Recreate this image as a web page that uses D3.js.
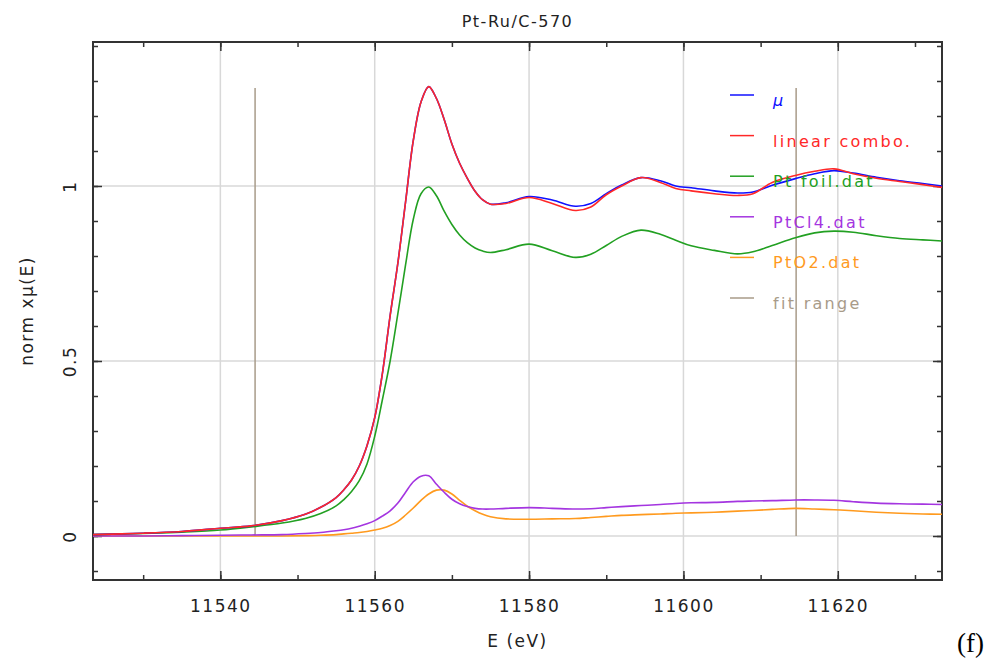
<!DOCTYPE html>
<html>
	<head>
		<meta http-equiv='Content-Type' content='text/html;charset=utf-8'/>
		<title>Pt-Ru/C-570</title>
		<script src='https://d3js.org/d3.v7.min.js'></script>
		<style>
			body { margin: 0; background: #ffffff; }
			text { font-family: 'DejaVu Sans', sans-serif; }
		</style>
	</head>

	<body>
		<script>
		'use strict'
		// energy grid (eV), shared by all spectra
		const energy = [11523.5, 11530, 11535, 11540, 11544, 11548, 11551, 11553, 11555, 11556, 11557, 11558, 11559, 11560,
			11561, 11562, 11563, 11564, 11565, 11566, 11567, 11568, 11569, 11570, 11571, 11572, 11573, 11574, 11575,
			11577, 11580, 11583, 11586, 11588, 11590, 11592, 11594.5, 11597, 11599, 11601, 11604, 11607, 11609,
			11611.5, 11614.5, 11617, 11619.5, 11622, 11625, 11628, 11631, 11633.5]

		const mu = [0.004, 0.008, 0.013, 0.022, 0.029, 0.044, 0.062, 0.082, 0.110, 0.132, 0.160, 0.200, 0.258, 0.338,
			0.465, 0.630, 0.780, 0.955, 1.130, 1.240, 1.284, 1.250, 1.190, 1.120, 1.065, 1.022, 0.985, 0.960, 0.948,
			0.952, 0.970, 0.960, 0.942, 0.950, 0.978, 1.003, 1.024, 1.015, 1.000, 0.995, 0.986, 0.980, 0.983,
			1.002, 1.021, 1.035, 1.044, 1.037, 1.025, 1.015, 1.007, 1.000]

		const combo = [0.004, 0.008, 0.013, 0.022, 0.029, 0.044, 0.062, 0.082, 0.110, 0.132, 0.160, 0.200, 0.258, 0.338,
			0.465, 0.630, 0.780, 0.955, 1.130, 1.240, 1.284, 1.250, 1.190, 1.120, 1.065, 1.022, 0.985, 0.960, 0.948,
			0.950, 0.967, 0.950, 0.930, 0.940, 0.975, 1.000, 1.024, 1.010, 0.993, 0.986, 0.978, 0.973, 0.978,
			1.010, 1.030, 1.042, 1.049, 1.035, 1.022, 1.013, 1.004, 0.996]

		const ptFoil = [0.004, 0.007, 0.011, 0.017, 0.026, 0.037, 0.050, 0.064, 0.086, 0.104, 0.127, 0.158, 0.206, 0.285,
			0.390, 0.500, 0.635, 0.775, 0.905, 0.978, 0.997, 0.972, 0.928, 0.890, 0.860, 0.838, 0.823, 0.814, 0.810,
			0.818, 0.834, 0.815, 0.796, 0.805, 0.830, 0.856, 0.874, 0.862, 0.845, 0.829, 0.816, 0.806, 0.812,
			0.830, 0.852, 0.866, 0.871, 0.868, 0.858, 0.850, 0.846, 0.843]

		const ptCl4 = [0.000, 0.000, 0.001, 0.002, 0.003, 0.004, 0.007, 0.010, 0.015, 0.018, 0.022, 0.028, 0.035, 0.044,
			0.057, 0.072, 0.094, 0.125, 0.155, 0.171, 0.172, 0.148, 0.125, 0.105, 0.092, 0.084, 0.079, 0.077, 0.077,
			0.079, 0.081, 0.079, 0.077, 0.078, 0.081, 0.084, 0.087, 0.090, 0.093, 0.095, 0.096, 0.099, 0.100,
			0.101, 0.103, 0.103, 0.102, 0.098, 0.094, 0.092, 0.091, 0.090]

		const ptO2 = [0.000, 0.000, 0.000, 0.000, 0.000, 0.000, 0.001, 0.002, 0.004, 0.006, 0.008, 0.010, 0.013, 0.017,
			0.022, 0.030, 0.042, 0.060, 0.080, 0.102, 0.120, 0.131, 0.131, 0.120, 0.102, 0.085, 0.072, 0.062, 0.055,
			0.049, 0.048, 0.049, 0.050, 0.053, 0.056, 0.059, 0.061, 0.063, 0.065, 0.066, 0.068, 0.071, 0.073,
			0.076, 0.079, 0.077, 0.075, 0.072, 0.068, 0.065, 0.063, 0.062]

		const fitRange = [11544.5, 11614.6]
		const fitTop = 1.28

		const seriesNames = ['\u03bc', 'linear combo.', 'Pt foil.dat', 'PtCl4.dat', 'PtO2.dat', 'fit range']
		const seriesColors = ['#1010ff', '#ff2828', '#22a022', '#a435e0', '#ff9a1e', '#a89b89']
		const seriesValues = [mu, combo, ptFoil, ptCl4, ptO2]

		const xMajor = [11540, 11560, 11580, 11600, 11620]
		const yMajor = [0, 0.5, 1]
		const yLabels = ['0', '0.5', '1']

		const width = 991
		const height = 670
		const margin = {top: 42, right: 49, bottom: 90, left: 93}

		const svg = d3.select('body').append('svg')
			.attr('width', width)
			.attr('height', height)

		svg.append('rect')
			.attr('width', '100%')
			.attr('height', '100%')
			.attr('fill', '#ffffff')

		const x = d3.scaleLinear()
			.domain([11523.5, 11633.5])
			.range([margin.left, width - margin.right])

		const y = d3.scaleLinear()
			.domain([-0.1257, 1.4114])
			.range([height - margin.bottom, margin.top])

		const x0 = margin.left
		const x1 = width - margin.right
		const y0 = height - margin.bottom
		const y1 = margin.top

		// grid
		const grid = svg.append('g')
			.attr('stroke', '#d8d8d8')
			.attr('stroke-width', 1.5)
		xMajor.forEach(function(v) {
			grid.append('line')
				.attr('x1', x(v)).attr('x2', x(v))
				.attr('y1', y0).attr('y2', y1)
		})
		yMajor.forEach(function(v) {
			grid.append('line')
				.attr('x1', x0).attr('x2', x1)
				.attr('y1', y(v)).attr('y2', y(v))
		})

		// axes, mirrored on all four sides
		const xMinor = d3.range(11530, 11634, 10)
		const yMinor = d3.range(-0.1, 1.41, 0.1)

		svg.append('g')
			.attr('transform', 'translate(0,' + y0 + ')')
			.call(d3.axisBottom(x).tickValues(xMinor).tickSize(-5).tickFormat(''))
		svg.append('g')
			.attr('transform', 'translate(0,' + y0 + ')')
			.call(d3.axisBottom(x).tickValues(xMajor).tickSize(-9).tickPadding(20).tickFormat(d3.format('d')))
		svg.append('g')
			.attr('transform', 'translate(0,' + y1 + ')')
			.call(d3.axisTop(x).tickValues(xMinor).tickSize(-5).tickFormat(''))
		svg.append('g')
			.attr('transform', 'translate(0,' + y1 + ')')
			.call(d3.axisTop(x).tickValues(xMajor).tickSize(-9).tickFormat(''))
		svg.append('g')
			.attr('transform', 'translate(' + x0 + ',0)')
			.call(d3.axisLeft(y).tickValues(yMinor).tickSize(-5).tickFormat(''))
		svg.append('g')
			.attr('class', 'yaxis')
			.attr('transform', 'translate(' + x0 + ',0)')
			.call(d3.axisLeft(y).tickValues(yMajor).tickSize(-9).tickFormat(function(d, i) { return yLabels[i] }))
		svg.append('g')
			.attr('transform', 'translate(' + x1 + ',0)')
			.call(d3.axisRight(y).tickValues(yMinor).tickSize(-5).tickFormat(''))
		svg.append('g')
			.attr('transform', 'translate(' + x1 + ',0)')
			.call(d3.axisRight(y).tickValues(yMajor).tickSize(-9).tickFormat(''))

		svg.selectAll('.domain').remove()
		svg.selectAll('.tick line')
			.attr('stroke', '#333333')
			.attr('stroke-width', 1.5)
		svg.selectAll('.tick text')
			.attr('fill', '#222222')
			.style('font-size', '17px')
			.style('letter-spacing', '1.5px')

		// rotate the y tick labels like the original
		svg.selectAll('.yaxis .tick text')
			.attr('x', 0)
			.attr('dy', 0)
			.attr('text-anchor', 'middle')
			.attr('transform', 'translate(-17,0) rotate(-90)')

		// frame
		svg.append('rect')
			.attr('x', x0)
			.attr('y', y1)
			.attr('width', x1 - x0)
			.attr('height', y0 - y1)
			.attr('fill', 'none')
			.attr('stroke', '#333333')
			.attr('stroke-width', 2)

		// fit range markers
		fitRange.forEach(function(e) {
			svg.append('line')
				.attr('x1', x(e)).attr('x2', x(e))
				.attr('y1', y(0)).attr('y2', y(fitTop))
				.attr('stroke', seriesColors[5])
				.attr('stroke-width', 1.5)
		})

		// spectra, drawn back to front
		const line = d3.line()
			.x(function(d, i) { return x(energy[i]) })
			.y(function(d) { return y(d) })
			.curve(d3.curveCatmullRom.alpha(0.5))

		const order = [4, 3, 2, 0, 1]
		order.forEach(function(k) {
			svg.append('path')
				.datum(seriesValues[k])
				.attr('d', line)
				.attr('fill', 'none')
				.attr('stroke', seriesColors[k])
				.attr('stroke-width', 1.6)
		})

		// legend
		const legend = svg.append('g')
		seriesNames.forEach(function(name, i) {
			const ly = 95 + i * 40.6
			legend.append('line')
				.attr('x1', 730).attr('x2', 754)
				.attr('y1', ly).attr('y2', ly)
				.attr('stroke', seriesColors[i])
				.attr('stroke-width', 1.5)
			legend.append('text')
				.attr('x', 773)
				.attr('y', ly + 11)
				.attr('fill', seriesColors[i])
				.style('font-size', '16px')
				.style('letter-spacing', '2.3px')
				.style('font-style', i == 0 ? 'italic' : 'normal')
				.text(name)
		})

		// titles
		svg.append('text')
			.attr('x', (x0 + x1) / 2)
			.attr('y', 27)
			.attr('text-anchor', 'middle')
			.attr('fill', '#222222')
			.style('font-size', '16px')
			.style('letter-spacing', '1.5px')
			.text('Pt-Ru/C-570')

		svg.append('text')
			.attr('x', (x0 + x1) / 2)
			.attr('y', 647)
			.attr('text-anchor', 'middle')
			.attr('fill', '#222222')
			.style('font-size', '17px')
			.style('letter-spacing', '1.5px')
			.text('E (eV)')

		svg.append('text')
			.attr('transform', 'translate(33,' + ((y0 + y1) / 2) + ') rotate(-90)')
			.attr('text-anchor', 'middle')
			.attr('fill', '#222222')
			.style('font-size', '17px')
			.style('letter-spacing', '1.5px')
			.text('norm x\u03bc(E)')

		svg.append('text')
			.attr('x', 957)
			.attr('y', 652)
			.attr('fill', '#000000')
			.style('font-family', "'Liberation Serif', serif")
			.style('font-size', '27px')
			.text('(f)')
		</script>
	</body>
</html>
